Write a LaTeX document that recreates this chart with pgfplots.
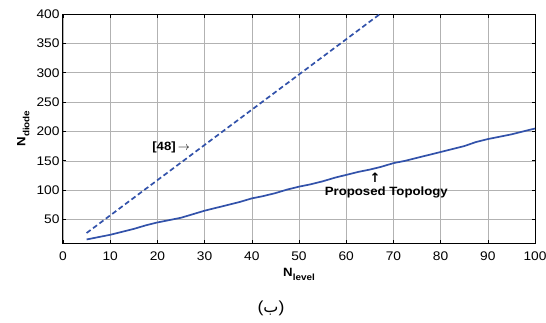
\documentclass[border=0pt]{standalone}
\usepackage{pgfplots}
\pgfplotsset{compat=1.18}
\usepackage{amsmath}
\usepackage{fontspec}
\setmainfont[FakeStretch=1.1]{Liberation Sans}
\newfontfamily\arabicfont[Script=Arabic]{DejaVu Sans}
\newfontfamily\dejavu{DejaVu Sans}
\TeXXeTstate=1
\definecolor{lineblue}{RGB}{50,82,170}
\begin{document}
\begin{tikzpicture}
\path[use as bounding box] (-63pt,-79pt) rectangle (483pt,243pt);
\begin{axis}[
  at={(0,0)}, anchor=south west,
  scale only axis,
  width=472pt, height=229pt,
  xmin=0, xmax=100, ymin=10, ymax=400,
  xtick={0,10,...,100},
  ytick={50,100,...,400},
  grid=major,
  major grid style={gray!60, line width=0.5pt},
  tick align=inside,
  tick pos=both,
  major tick length=3.5pt,
  axis line style={black, line width=1pt},
  every tick/.style={black, line width=0.6pt},
  tick label style={font=\fontsize{12.5}{14}\selectfont},
  /pgf/number format/assume math mode=true,
  xticklabel style={yshift=-5.5pt},
  xlabel={\fontsize{12}{14}\selectfont\textbf{N\raisebox{-4pt}{\fontsize{9}{10}\selectfont level}}},
  ylabel={\fontsize{12}{14}\selectfont\textbf{N\raisebox{-4pt}{\fontsize{9}{10}\selectfont diode}}},
  xlabel style={at={(axis description cs:0.5,0)}, anchor=north, yshift=-21.5pt},
  ylabel style={at={(axis description cs:0,0.5)}, anchor=south, yshift=30pt},
  clip=true,
]
\addplot[lineblue, line width=1.7pt, dash pattern=on 5pt off 3pt] coordinates {
  (5,27) (10,57) (20,117) (30,177) (40,237) (50,297) (60,357) (70,417)
};
\addplot[lineblue, line width=1.7pt] coordinates {
  (5,16) (10,24) (12.5,29) (15,34) (17.5,40) (20,45) (22.5,49) (25,53) (27.5,59)
  (30,65) (32.5,70) (35,75) (37.5,80) (40,86) (42.5,90) (45,95) (47.5,101) (50,106)
  (52.5,110) (55,115) (57.5,121) (60,126) (62.5,131) (65,135) (67.5,140) (70,146)
  (72.5,150) (75,155) (77.5,160) (80,165) (82.5,170) (85,175) (87.5,182) (90,187)
  (92.5,191) (95,195) (97.5,200) (100,205)
};
\node[anchor=base, font=\fontsize{12}{14}\selectfont] at (axis cs:22.9,167) {\textbf{[48]}\,$\rightarrow$};
\node[anchor=south, inner sep=0pt, font=\fontsize{13}{14}\selectfont] at (axis cs:66.1,112.5) {{\dejavu\bfseries ↑}};
\node[anchor=base, font=\fontsize{12}{14}\selectfont\bfseries] at (axis cs:68.5,91) {Proposed Topology};
\end{axis}
\node[font=\fontsize{16}{17}\selectfont] at (208pt,-65pt) {({\arabicfont ب})};
\end{tikzpicture}
\end{document}
